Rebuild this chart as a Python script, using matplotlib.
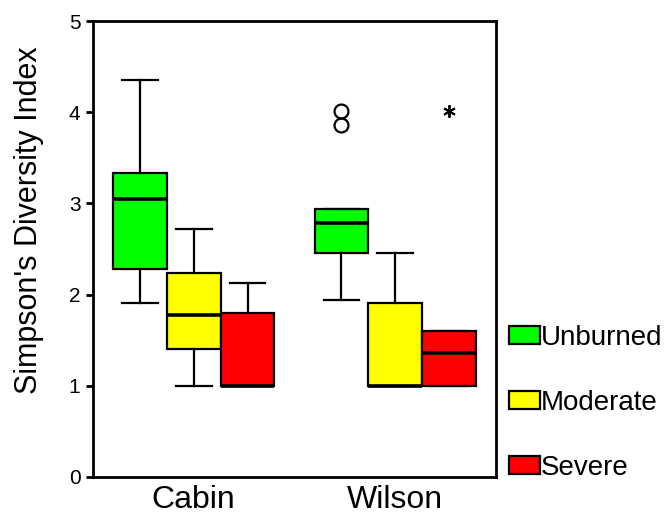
import matplotlib.pyplot as plt
from matplotlib.patches import Patch

plt.rcParams['font.family'] = ['Liberation Sans', 'DejaVu Sans']

# Data (box-plot summary stats)
sites = ["Cabin", "Wilson"]
treatments = ["Unburned", "Moderate", "Severe"]
colors = ["#00ff00", "#ffff00", "#ff0000"]

# per site: one value per treatment
whislo = [[1.91, 1.00, 1.00], [1.94, 1.00, 1.00]]
q1 = [[2.28, 1.40, 1.00], [2.46, 1.00, 1.00]]
med = [[3.05, 1.78, 1.00], [2.79, 1.00, 1.36]]
q3 = [[3.33, 2.24, 1.80], [2.94, 1.91, 1.60]]
whishi = [[4.35, 2.72, 2.13], [2.94, 2.46, 1.60]]
outliers = [[[], [], []], [[4.01, 3.86], [], []]]
extremes = [[[], [], []], [[], [], [4.01]]]

width = 0.267
offsets = [-width, 0, width]

fig = plt.figure(figsize=(6.7, 5.14), dpi=100)
ax = fig.add_axes([0.1388, 0.072, 0.6015, 0.887])

stats, positions, fills, marks = [], [], [], []
for i, site in enumerate(sites):
    for j, tr in enumerate(treatments):
        stats.append(dict(med=med[i][j], q1=q1[i][j], q3=q3[i][j],
                          whislo=whislo[i][j], whishi=whishi[i][j],
                          fliers=outliers[i][j] + extremes[i][j]))
        positions.append(i + 1 + offsets[j])
        fills.append(colors[j])
        marks.append('*' if extremes[i][j] else 'o')

art = ax.bxp(stats, positions=positions, widths=width, patch_artist=True,
             showfliers=True,
             boxprops=dict(edgecolor='black', linewidth=1.6),
             medianprops=dict(color='black', linewidth=2.6),
             whiskerprops=dict(color='black', linewidth=1.6),
             capprops=dict(color='black', linewidth=1.6),
             capwidths=width * 2 / 3,
             flierprops=dict(marker='o', markerfacecolor='none',
                             markeredgecolor='black', markersize=10,
                             markeredgewidth=1.6))
for box, c in zip(art['boxes'], fills):
    box.set_facecolor(c)
for fl, m in zip(art['fliers'], marks):
    if m == '*':
        fl.set_marker((6, 2, 0))
        fl.set_markersize(9)
        fl.set_markeredgewidth(1.4)

ax.set_xlim(0.5, 2.5)
ax.set_ylim(0, 5)
ax.set_xticks([1, 2])
ax.set_xticklabels(sites, fontsize=23)
ax.set_yticks([0, 1, 2, 3, 4, 5])
ax.set_yticklabels(["0", "1", "2", "3", "4", "5"], fontsize=15)
ax.tick_params(axis='y', length=5, width=2, pad=4)
ax.tick_params(axis='x', length=0, pad=6)
ax.set_ylabel("Simpson's Diversity Index", fontsize=22)
ax.yaxis.set_label_coords(-0.122, 0.564)
for s in ax.spines.values():
    s.set_linewidth(2)

handles = [Patch(facecolor=c, edgecolor='black', linewidth=1.6) for c in colors]
fig.legend(handles, treatments, loc='upper left',
           bbox_to_anchor=(509 / 670, 1 - 325 / 514), frameon=False,
           fontsize=20, borderpad=0, labelspacing=1.4, handlelength=1.1,
           handleheight=0.6, handletextpad=0.05, borderaxespad=0)

fig.savefig("out.png", dpi=100)
